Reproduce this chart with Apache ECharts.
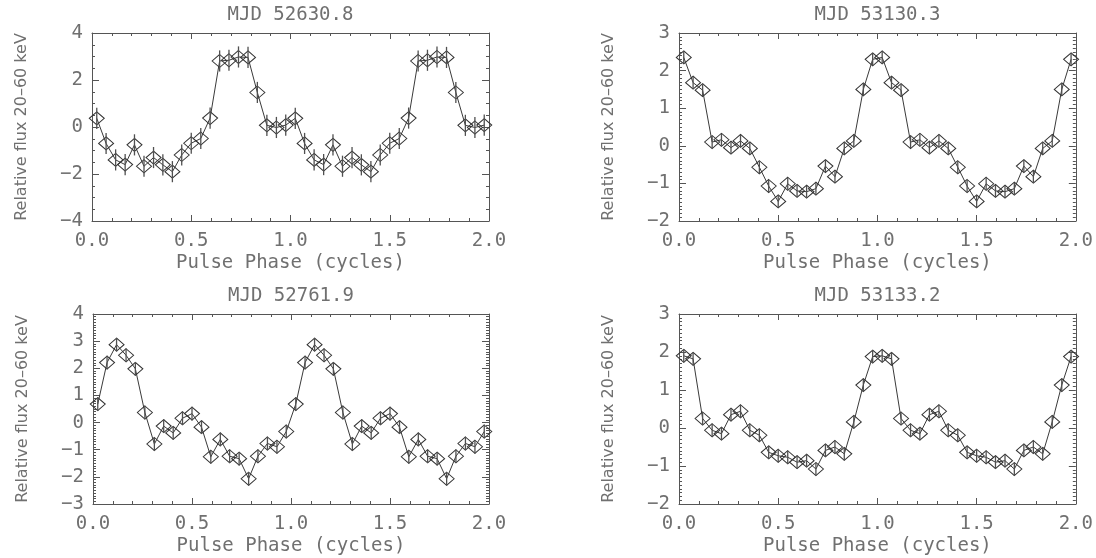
<!DOCTYPE html>
<html>
<head>
<meta charset="utf-8">
<script src="https://cdn.jsdelivr.net/npm/echarts@6/dist/echarts.min.js"></script>
<style>
html, body { margin: 0; padding: 0; background: #fff; }
#chart { width: 1096px; height: 558px; }
</style>
</head>
<body>
<div id="chart"></div>
<script>
// bin centres of one pulse cycle (21 bins), the profile is drawn twice
const phaseBins = [0.024, 0.071, 0.119, 0.167, 0.214, 0.262, 0.310, 0.357, 0.405, 0.452, 0.500,
                   0.548, 0.595, 0.643, 0.690, 0.738, 0.786, 0.833, 0.881, 0.929, 0.976];

const titles = ['MJD 52630.8', 'MJD 53130.3', 'MJD 52761.9', 'MJD 53133.2'];

const flux52630 = [0.37, -0.70, -1.40, -1.60, -0.76, -1.67, -1.30, -1.61, -1.90, -1.19, -0.69,
                   -0.49, 0.38, 2.81, 2.84, 2.98, 2.96, 1.47, 0.07, -0.02, 0.08];
const flux53130 = [2.35, 1.68, 1.48, 0.10, 0.16, -0.05, 0.13, -0.07, -0.57, -1.07, -1.48,
                   -1.01, -1.20, -1.22, -1.14, -0.54, -0.82, -0.07, 0.13, 1.50, 2.30];
const flux52761 = [0.68, 2.21, 2.87, 2.48, 1.98, 0.37, -0.79, -0.13, -0.38, 0.16, 0.33,
                   -0.17, -1.26, -0.62, -1.24, -1.33, -2.07, -1.24, -0.77, -0.89, -0.33];
const flux53133 = [1.90, 1.82, 0.25, -0.06, -0.15, 0.35, 0.44, -0.06, -0.19, -0.64, -0.73,
                   -0.77, -0.90, -0.86, -1.08, -0.59, -0.50, -0.68, 0.16, 1.13, 1.88];

// typical error bar half-length per panel
const fluxErr = [0.45, 0.16, 0.25, 0.17];

// y axis ranges / ticks per panel
const yMin = [-4, -2, -3, -2];
const yMax = [4, 3, 4, 3];
const yStep = [2, 1, 1, 1];
const yMinorSplit = [4, 10, 10, 10];

const profiles = [flux52630, flux53130, flux52761, flux53133];

// panel boxes (pixels)
const boxes = [
    {left: 92, top: 33, width: 397, height: 188},
    {left: 679, top: 33, width: 397, height: 188},
    {left: 93, top: 314, width: 396, height: 190},
    {left: 679, top: 314, width: 397, height: 190}
];

const textColor = '#707070';
const lineColor = '#3a3a3a';
const wideFont = '"DejaVu Sans Mono", monospace';
const nameFont = '"DejaVu Sans", sans-serif';

function minus(v) {
    return String(v).replace('-', '\u2212');
}

let grid = [], xAxis = [], yAxis = [], series = [], title = [];

profiles.forEach(function (prof, k) {
    const b = boxes[k];
    grid.push({left: b.left, top: b.top, width: b.width, height: b.height, containLabel: false});

    title.push({
        text: titles[k],
        left: b.left + b.width / 2,
        top: b.top - 27,
        textAlign: 'center',
        padding: 0,
        textStyle: {fontFamily: wideFont, fontSize: 19, fontWeight: 'normal', color: textColor}
    });

    // bottom + top x axes
    const xBase = {
        type: 'value', gridIndex: k, min: 0, max: 2, interval: 0.5,
        axisLine: {onZero: false, lineStyle: {color: '#555', width: 1}},
        axisTick: {inside: true, length: 6, lineStyle: {color: '#555'}},
        minorTick: {show: true, splitNumber: 5, length: 3, lineStyle: {color: '#555'}},
        splitLine: {show: false}
    };
    xAxis.push(Object.assign({}, xBase, {
        position: 'bottom',
        name: 'Pulse Phase (cycles)', nameLocation: 'middle', nameGap: 33,
        nameTextStyle: {fontFamily: wideFont, fontSize: 19, color: textColor},
        axisLabel: {margin: 11, fontFamily: wideFont, fontSize: 19, color: textColor,
            formatter: function (v) { return v.toFixed(1); }}
    }));
    xAxis.push(Object.assign({}, xBase, {position: 'top', axisLabel: {show: false}}));

    // left + right y axes
    const yBase = {
        type: 'value', gridIndex: k, min: yMin[k], max: yMax[k], interval: yStep[k],
        axisLine: {show: true, onZero: false, lineStyle: {color: '#555', width: 1}},
        axisTick: {show: true, inside: true, length: 7, lineStyle: {color: '#555'}},
        minorTick: {show: true, splitNumber: yMinorSplit[k], length: 3, lineStyle: {color: '#555'}},
        splitLine: {show: false}
    };
    yAxis.push(Object.assign({}, yBase, {
        position: 'left',
        name: 'Relative flux 20\u201360 keV', nameLocation: 'middle', nameGap: 62,
        nameTextStyle: {fontFamily: nameFont, fontSize: 16, color: textColor},
        axisLabel: {margin: 9, fontFamily: wideFont, fontSize: 19, color: textColor, formatter: minus}
    }));
    yAxis.push(Object.assign({}, yBase, {position: 'right', axisLabel: {show: false}}));

    // two cycles of the same profile
    let pts = [], errs = [];
    for (let c = 0; c < 2; c++) {
        for (let i = 0; i < phaseBins.length; i++) {
            pts.push([phaseBins[i] + c, prof[i]]);
            errs.push([phaseBins[i] + c, prof[i], fluxErr[k]]);
        }
    }

    series.push({
        type: 'custom',
        xAxisIndex: 2 * k, yAxisIndex: 2 * k,
        dimensions: ['phase', 'flux', 'err'],
        data: errs,
        encode: {x: 'phase', y: 'flux'},
        silent: true,
        z: 3,
        renderItem: function (params, api) {
            const x = api.value('phase'), y = api.value('flux'), e = api.value('err');
            const p1 = api.coord([x, y + e]);
            const p2 = api.coord([x, y - e]);
            return {
                type: 'line',
                shape: {x1: p1[0], y1: p1[1], x2: p2[0], y2: p2[1]},
                style: {stroke: '#505050', lineWidth: 1.3, fill: null}
            };
        }
    });

    series.push({
        type: 'line',
        xAxisIndex: 2 * k, yAxisIndex: 2 * k,
        data: pts,
        symbol: 'diamond',
        symbolSize: [15, 13],
        showAllSymbol: true,
        silent: true,
        z: 2,
        lineStyle: {color: lineColor, width: 1},
        itemStyle: {color: 'rgba(255,255,255,0)', borderColor: '#333', borderWidth: 1},
        animation: false
    });
});

let chart = echarts.init(document.getElementById('chart'));
chart.setOption({
    animation: false,
    backgroundColor: '#fff',
    title: title,
    grid: grid,
    xAxis: xAxis,
    yAxis: yAxis,
    series: series
});
</script>
</body>
</html>
